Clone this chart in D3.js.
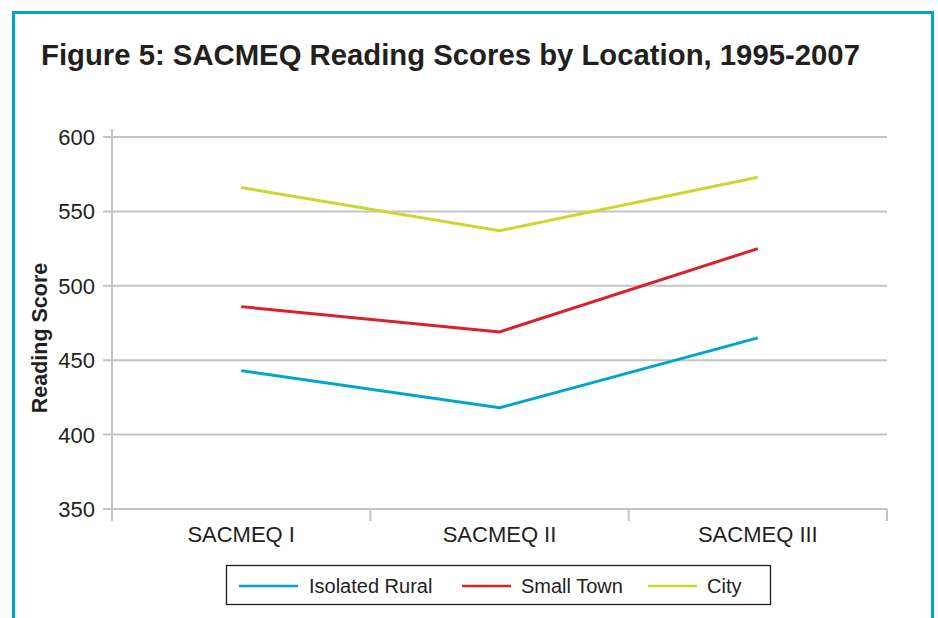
<!DOCTYPE html>
<html>
<head>
<meta charset="utf-8">
<script src="https://cdn.jsdelivr.net/npm/d3@7"></script>
<style>
  body { margin: 0; background: #fff; }
  text { font-family: "Liberation Sans", Arial, Helvetica, sans-serif; fill: #231f20; }
</style>
</head>
<body>
<div id="graph"></div>
<script>
// rounds of the survey
var rounds = ['SACMEQ I', 'SACMEQ II', 'SACMEQ III']
var yTicks = [350, 400, 450, 500, 550, 600]

// reading scores per location
var isolatedRural = [443, 418, 465]
var smallTown = [486, 469, 525]
var city = [566, 537, 573]

var seriesNames = ['Isolated Rural', 'Small Town', 'City']
var seriesColors = ['#00a6ca', '#d9212b', '#c9d82c']
var series = [isolatedRural, smallTown, city].map(function(vals, i){
  return {name: seriesNames[i], color: seriesColors[i], values: vals}
})

var W = 938, H = 618
var svg = d3.select('#graph').append('svg')
    .attr('width', W).attr('height', H)

// teal frame
svg.append('path')
    .attr('d', 'M13.5,' + (H + 5) + 'V12.5H932.5V' + (H + 5))
    .attr('fill', 'none')
    .attr('stroke', '#00a6ca')
    .attr('stroke-width', 3)

svg.append('text')
    .attr('x', 41).attr('y', 65)
    .style('font-size', '29.3px').style('font-weight', 'bold')
    .text('Figure 5: SACMEQ Reading Scores by Location, 1995-2007')

var m = {left: 112, right: 887, top: 137, bottom: 509}

var x = d3.scaleBand().domain(rounds).range([m.left, m.right])
var y = d3.scaleLinear().domain([350, 600]).range([m.bottom, m.top])

var grid = '#c4c4c7'

// horizontal gridlines
svg.append('g').selectAll('line')
    .data(yTicks).join('line')
    .attr('x1', m.left - 9).attr('x2', m.right)
    .attr('y1', function(d){ return y(d) }).attr('y2', function(d){ return y(d) })
    .attr('stroke', grid).attr('stroke-width', 2)

// y axis line
svg.append('line')
    .attr('x1', m.left).attr('x2', m.left)
    .attr('y1', m.top - 8).attr('y2', m.bottom + 12)
    .attr('stroke', grid).attr('stroke-width', 2)

// x category ticks
var xEdges = rounds.map(function(r){ return x(r) }).concat([m.right])
svg.append('g').selectAll('line')
    .data(xEdges.slice(1)).join('line')
    .attr('x1', function(d){ return d }).attr('x2', function(d){ return d })
    .attr('y1', m.bottom).attr('y2', m.bottom + 12)
    .attr('stroke', grid).attr('stroke-width', 2)

svg.append('g').selectAll('text')
    .data(yTicks).join('text')
    .attr('x', 95).attr('y', function(d){ return y(d) })
    .attr('dy', '0.36em').attr('text-anchor', 'end')
    .style('font-size', '22px')
    .text(function(d){ return d })

svg.append('g').selectAll('text')
    .data(rounds).join('text')
    .attr('x', function(d){ return x(d) + x.bandwidth() / 2 })
    .attr('y', 542).attr('text-anchor', 'middle')
    .style('font-size', '22px')
    .text(function(d){ return d })

svg.append('text')
    .attr('transform', 'translate(47,' + 338 + ') rotate(-90)')
    .attr('text-anchor', 'middle')
    .style('font-size', '21.5px').style('font-weight', 'bold')
    .text('Reading Score')

var line = d3.line()
    .x(function(d, i){ return x(rounds[i]) + x.bandwidth() / 2 })
    .y(function(d){ return y(d) })

svg.append('g').selectAll('path')
    .data(series).join('path')
    .attr('d', function(d){ return line(d.values) })
    .attr('fill', 'none')
    .attr('stroke', function(d){ return d.color })
    .attr('stroke-width', 3)

// legend
svg.append('rect')
    .attr('x', 226.5).attr('y', 565.5).attr('width', 544).attr('height', 39)
    .attr('fill', '#fff').attr('stroke', '#231f20').attr('stroke-width', 1.3)

var legendLine = [[239, 298], [462, 511], [648, 697]]
var legendText = [309, 521, 707]
var legend = svg.append('g').selectAll('g')
    .data(series).join('g')
    .attr('transform', 'translate(0,586)')

legend.append('line')
    .attr('x1', function(d, i){ return legendLine[i][0] })
    .attr('x2', function(d, i){ return legendLine[i][1] })
    .attr('stroke', function(d){ return d.color }).attr('stroke-width', 2.5)

legend.append('text')
    .attr('x', function(d, i){ return legendText[i] }).attr('dy', '0.36em')
    .style('font-size', '20px')
    .text(function(d){ return d.name })
</script>
</body>
</html>
